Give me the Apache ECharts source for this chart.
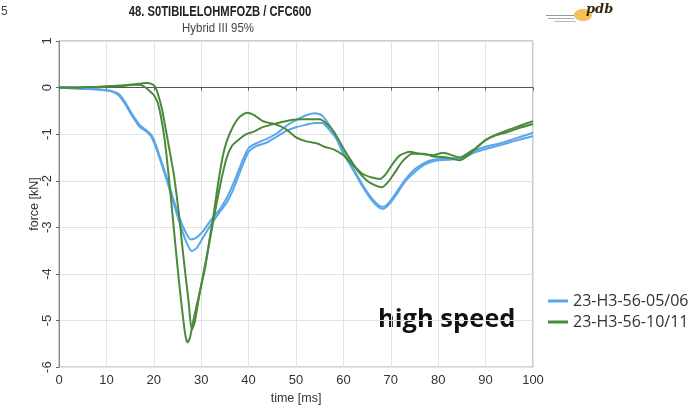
<!DOCTYPE html>
<html><head><meta charset="utf-8">
<script src="https://cdn.jsdelivr.net/npm/echarts@6/dist/echarts.min.js"></script>
<style>html,body{margin:0;padding:0;background:#fff}#c{width:690px;height:410px}</style>
</head><body><div id="c"></div>
<script>
// ---- data (time [ms], force [kN]) ----
const titleText = "48. S0TIBILELOHMFOZB / CFC600";
const subtitleText = "Hybrid III 95%";
const legendNames = ["23-H3-56-05/06", "23-H3-56-10/11"];
const xTicks = [0,10,20,30,40,50,60,70,80,90,100];
const yTicks = [-6,-5,-4,-3,-2,-1,0,1];

const blue05 = [[0,0],[3,-0.01],[6,-0.02],[9,-0.04],[11,-0.07],[12.5,-0.13],[14,-0.32],[15.5,-0.58],[17,-0.8],[18.5,-0.92],[19.5,-1.02],[20.5,-1.25],[21.5,-1.55],[22.7,-1.92],[24,-2.35],[25.5,-2.82],[26.8,-3.12],[27.8,-3.26],[29,-3.22],[30.4,-3.08],[32,-2.85],[34,-2.6],[35.5,-2.35],[36.7,-2.08],[38,-1.75],[39,-1.5],[40,-1.3],[41.5,-1.2],[43.8,-1.1],[46,-0.98],[48,-0.82],[50,-0.7],[52,-0.6],[54,-0.55],[55.5,-0.6],[57,-0.8],[58.5,-1.05],[60,-1.38],[62,-1.72],[64,-2.08],[66,-2.38],[67.5,-2.53],[68.5,-2.56],[70,-2.42],[71.5,-2.2],[73,-1.98],[75,-1.76],[77,-1.62],[79,-1.55],[82,-1.52],[85,-1.5],[87.5,-1.36],[90,-1.27],[93,-1.2],[96,-1.1],[100,-0.97]];
const blue06 = [[0,0],[3,-0.02],[6,-0.03],[9,-0.05],[11,-0.08],[12.5,-0.16],[14,-0.36],[15.5,-0.62],[17,-0.84],[18.5,-0.95],[19.5,-1.06],[20.5,-1.3],[21.5,-1.6],[22.7,-1.98],[24,-2.42],[25.5,-2.92],[26.8,-3.3],[28,-3.51],[29,-3.45],[30.4,-3.22],[32,-2.95],[34,-2.66],[35.5,-2.45],[36.7,-2.2],[38,-1.86],[39,-1.6],[40,-1.38],[41.5,-1.26],[43.8,-1.18],[46,-1.05],[48,-0.93],[50,-0.85],[52,-0.8],[54,-0.76],[55.5,-0.76],[57,-0.9],[58.5,-1.1],[60,-1.42],[62,-1.76],[64,-2.12],[66,-2.42],[67.5,-2.57],[68.5,-2.6],[70,-2.46],[71.5,-2.25],[73,-2.02],[75,-1.82],[77,-1.66],[79,-1.58],[82,-1.55],[85,-1.52],[87.5,-1.4],[90,-1.32],[93,-1.24],[96,-1.15],[100,-1.04]];
const green10 = [[0,0],[3,0.0],[6,0.01],[9,0.02],[12,0.03],[14,0.04],[16,0.06],[17.5,0.05],[18.5,-0.02],[19.2,-0.08],[20,-0.16],[20.8,-0.32],[21.5,-0.62],[22.3,-1.12],[23.2,-1.95],[24.2,-3.0],[25.2,-4.05],[25.9,-4.7],[26.6,-5.28],[27.1,-5.47],[27.6,-5.38],[28.3,-5.02],[29,-4.7],[30,-4.25],[30.8,-3.88],[31.7,-3.3],[32.6,-2.74],[33.5,-2.1],[34.5,-1.5],[35.4,-1.15],[36.8,-0.82],[38,-0.64],[39.6,-0.54],[41,-0.58],[43,-0.72],[46,-0.8],[48,-0.9],[50,-1.07],[52,-1.15],[54.5,-1.2],[56,-1.27],[58,-1.33],[60,-1.45],[62,-1.66],[64,-1.85],[66,-1.93],[67.7,-1.96],[69,-1.85],[70.5,-1.62],[72,-1.45],[74,-1.38],[76,-1.42],[79,-1.45],[81,-1.4],[84.6,-1.5],[86.7,-1.38],[88,-1.3],[90,-1.12],[92,-1.02],[94.5,-0.92],[97,-0.83],[100,-0.72]];
const green11 = [[0,0],[3,0.0],[6,0.01],[9,0.02],[12,0.04],[14,0.05],[16,0.07],[17.5,0.09],[18.5,0.1],[19.5,0.08],[20.3,0.02],[21,-0.18],[21.7,-0.45],[22.5,-0.88],[23.4,-1.39],[24.2,-1.85],[24.8,-2.3],[25.4,-2.8],[25.9,-3.3],[26.6,-3.95],[27.3,-4.55],[28,-5.2],[28.6,-5.05],[29.7,-4.4],[30.6,-3.92],[31.5,-3.45],[32.4,-2.95],[33.3,-2.46],[34.3,-1.95],[35.4,-1.5],[36.5,-1.25],[37.5,-1.15],[39.5,-1.0],[41,-0.95],[43,-0.85],[45,-0.79],[47,-0.74],[49.4,-0.69],[51,-0.68],[53,-0.68],[55,-0.68],[56.5,-0.78],[58,-0.95],[60,-1.3],[61.5,-1.55],[63,-1.78],[65,-2.0],[66.7,-2.1],[68.1,-2.14],[69.5,-2.02],[71,-1.8],[72.5,-1.58],[74.5,-1.42],[77,-1.42],[79,-1.48],[82,-1.5],[84.6,-1.56],[87,-1.4],[88.5,-1.25],[90.2,-1.12],[92,-1.03],[94.5,-0.96],[97,-0.87],[100,-0.78]];

// ---- chart ----
const BLUE = '#5aa6e8', GREEN = '#4a8a3a';
const chart = echarts.init(document.getElementById('c'), null, {renderer:'canvas'});
function line(name, data, color, extra){
  return Object.assign({name, type:'line', data, showSymbol:false, smooth:0.2,
    lineStyle:{color, width:2}, itemStyle:{color}, z:3}, extra||{});
}
const sans = "'Liberation Sans', Arial, sans-serif";
chart.setOption({
  animation:false,
  backgroundColor:'#fff',
  legend:{data:legendNames, orient:'vertical', left:543, top:288, itemGap:5,
    itemWidth:20, itemHeight:3, icon:'rect',
    textStyle:{fontFamily:"'Open Sans', sans-serif", fontSize:16, color:'#333'}},
  grid:{left:59, right:157, top:41, bottom:41, show:true, borderColor:'#999', borderWidth:1},
  xAxis:{type:'value', min:0, max:100, interval:10,
    name:'time [ms]', nameLocation:'middle', nameGap:23,
    nameTextStyle:{fontFamily:sans, fontSize:12.5, color:'#333'},
    axisLine:{show:true, lineStyle:{color:'#888'}},
    axisTick:{show:true, length:3, lineStyle:{color:'#666'}},
    axisLabel:{fontFamily:sans, fontSize:13, color:'#333', margin:7},
    splitLine:{show:true, lineStyle:{color:'#e2e2e2'}}},
  yAxis:{type:'value', min:-6, max:1, interval:1,
    name:'force [kN]', nameLocation:'middle', nameGap:18, nameRotate:90, nameMoveOverlap:false,
    nameTextStyle:{fontFamily:sans, fontSize:12.5, color:'#333'},
    axisLine:{show:true, lineStyle:{color:'#888'}},
    axisTick:{show:true, length:3, lineStyle:{color:'#666'}},
    axisLabel:{fontFamily:sans, fontSize:13, color:'#333', rotate:90, margin:5},
    splitLine:{show:true, lineStyle:{color:'#e2e2e2'}}},
  series:[
    line(legendNames[0], blue05, BLUE, {markLine:{silent:true, symbol:'none', label:{show:false},
      lineStyle:{color:'#555', type:'solid', width:1}, data:[{yAxis:0}], z:1}}),
    line(legendNames[0], blue06, BLUE),
    line(legendNames[1], green10, GREEN),
    line(legendNames[1], green11, GREEN)
  ],
  graphic:[
    {type:'text', x:220, y:5, scaleX:0.8, originX:0, originY:0,
      style:{text:titleText, fontFamily:sans, fontSize:14, fontWeight:'bold', fill:'#222', align:'center'}},
    {type:'text', x:218, y:22, scaleX:0.88, originX:0, originY:0,
      style:{text:subtitleText, fontFamily:sans, fontSize:13, fill:'#444', align:'center'}},
    {type:'text', left:378, top:307, style:{text:'high speed', fontFamily:"'Open Sans', sans-serif",
      fontSize:25.5, fontWeight:'bold', fill:'#111'}},
    {type:'text', left:1, top:6, style:{text:'5', fontFamily:sans, fontSize:12, fill:'#444'}},
    // small logo approximation
    {type:'ellipse', shape:{cx:583, cy:15, rx:9, ry:6}, style:{fill:'#f0b030', opacity:0.8}},
    {type:'text', left:586, top:3, style:{text:'pdb', fontFamily:"'DejaVu Serif', serif", fontStyle:'italic', fontWeight:'bold', fontSize:13, fill:'#3a2a10'}},
    {type:'rect', shape:{x:546, y:15, width:28, height:1}, style:{fill:'#999'}},
    {type:'rect', shape:{x:548, y:18, width:26, height:1}, style:{fill:'#aaa'}},
    {type:'rect', shape:{x:554, y:21, width:22, height:1}, style:{fill:'#bbb'}}
  ]
});
</script></body></html>
